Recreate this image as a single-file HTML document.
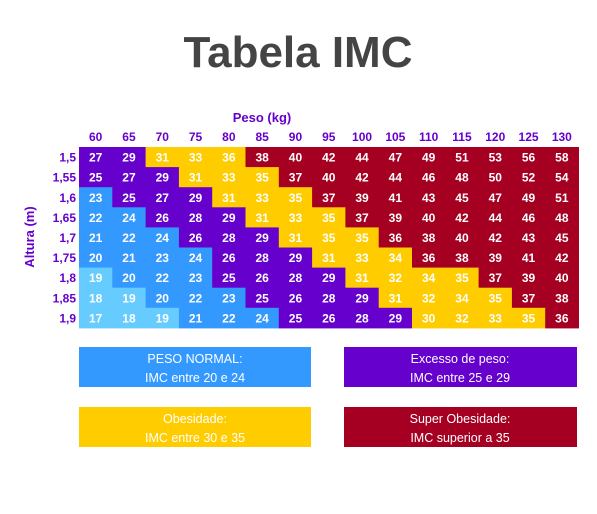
<!DOCTYPE html>
<html><head><meta charset="utf-8"><style>
body{margin:0;background:#fff;width:597px;height:514px;overflow:hidden}
svg{display:block;font-family:"Liberation Sans",sans-serif}
</style></head><body>
<svg id="c" width="597" height="514">
<text x="298" y="67" text-anchor="middle" font-size="44" font-weight="bold" fill="#444">Tabela IMC</text>
<text x="262" y="122" text-anchor="middle" font-size="13" font-weight="bold" fill="#6600cc">Peso (kg)</text>
<text transform="translate(34,237) rotate(-90)" text-anchor="middle" font-size="13" font-weight="bold" fill="#6600cc">Altura (m)</text>
<g id="grid"></g>
<g>
<rect x="79" y="347" width="232" height="40" fill="#3399ff"/>
<text x="195" y="363" text-anchor="middle" font-size="12.5" fill="#fff">PESO NORMAL:</text>
<text x="195" y="382" text-anchor="middle" font-size="12.5" fill="#fff">IMC entre 20 e 24</text>
<rect x="344" y="347" width="233" height="40" fill="#6600cc"/>
<text x="460" y="363" text-anchor="middle" font-size="12.5" fill="#fff">Excesso de peso:</text>
<text x="460" y="382" text-anchor="middle" font-size="12.5" fill="#fff">IMC entre 25 e 29</text>
<rect x="79" y="407" width="232" height="40" fill="#ffcc00"/>
<text x="195" y="423" text-anchor="middle" font-size="12.5" fill="#fff">Obesidade:</text>
<text x="195" y="442" text-anchor="middle" font-size="12.5" fill="#fff">IMC entre 30 e 35</text>
<rect x="344" y="407" width="233" height="40" fill="#a50021"/>
<text x="460" y="423" text-anchor="middle" font-size="12.5" fill="#fff">Super Obesidade:</text>
<text x="460" y="442" text-anchor="middle" font-size="12.5" fill="#fff">IMC superior a 35</text>
</g>
</svg>
<script>
const weights=[60,65,70,75,80,85,90,95,100,105,110,115,120,125,130];
const heights=["1,5","1,55","1,6","1,65","1,7","1,75","1,8","1,85","1,9"];
const row0=[27,29,31,33,36,38,40,42,44,47,49,51,53,56,58];
const row1=[25,27,29,31,33,35,37,40,42,44,46,48,50,52,54];
const row2=[23,25,27,29,31,33,35,37,39,41,43,45,47,49,51];
const row3=[22,24,26,28,29,31,33,35,37,39,40,42,44,46,48];
const row4=[21,22,24,26,28,29,31,35,35,36,38,40,42,43,45];
const row5=[20,21,23,24,26,28,29,31,33,34,36,38,39,41,42];
const row6=[19,20,22,23,25,26,28,29,31,32,34,35,37,39,40];
const row7=[18,19,20,22,23,25,26,28,29,31,32,34,35,37,38];
const row8=[17,18,19,21,22,24,25,26,28,29,30,32,33,35,36];
const values=[row0,row1,row2,row3,row4,row5,row6,row7,row8];
const yellowOverride=[[0,4]];
const X0=79,CW=33.3,Y0=147,RH=20.1;
const xPos=i=>X0+i*CW, yPos=j=>Y0+j*RH;
function color(v,r,c){
  if(yellowOverride.some(o=>o[0]===r&&o[1]===c))return"#ffcc00";
  if(v<=19)return"#66ccff";if(v<=24)return"#3399ff";if(v<=29)return"#6600cc";if(v<=35)return"#ffcc00";return"#a50021";
}
const NS="http://www.w3.org/2000/svg",g=document.getElementById("grid");
weights.forEach((w,i)=>{const t=document.createElementNS(NS,"text");
t.setAttribute("x",xPos(i)+CW/2);t.setAttribute("y",141);t.setAttribute("text-anchor","middle");
t.setAttribute("font-size","12");t.setAttribute("font-weight","bold");t.setAttribute("fill","#6600cc");


t.textContent=w;g.appendChild(t);});
heights.forEach((h,j)=>{const t=document.createElementNS(NS,"text");
t.setAttribute("x",76);t.setAttribute("y",yPos(j)+RH/2+4.5);t.setAttribute("text-anchor","end");
t.setAttribute("font-size","12");t.setAttribute("font-weight","bold");t.setAttribute("fill","#6600cc");


t.textContent=h;g.appendChild(t);
values[j].forEach((v,i)=>{const r=document.createElementNS(NS,"rect");
r.setAttribute("x",xPos(i));r.setAttribute("y",yPos(j));r.setAttribute("width",CW+0.5);r.setAttribute("height",RH+0.5);
r.setAttribute("fill",color(v,j,i));


g.appendChild(r);
const t2=document.createElementNS(NS,"text");
t2.setAttribute("x",xPos(i)+CW/2);t2.setAttribute("y",yPos(j)+RH/2+4.5);t2.setAttribute("text-anchor","middle");
t2.setAttribute("font-size","12");t2.setAttribute("font-weight","bold");t2.setAttribute("fill","#fff");


t2.textContent=v;g.appendChild(t2);});});
</script>
</body></html>
